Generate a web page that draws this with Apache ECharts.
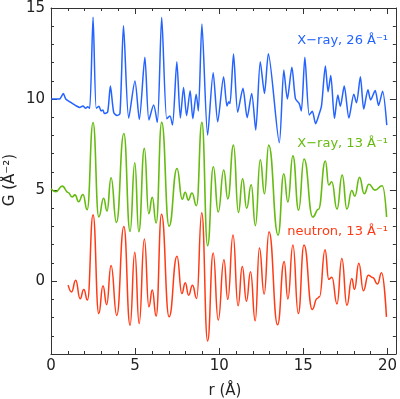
<!DOCTYPE html>
<html lang="en">
<head>
<meta charset="UTF-8">
<title>G(r)</title>
<style>
    *{margin: 0; padding: 0}
    #chart{width: 400px; height: 399px}
</style>
</head>
<body>
<div id="chart"></div>
<script src="https://cdn.jsdelivr.net/npm/echarts@6/dist/echarts.min.js"></script>
<script>
    // tick values
    const xMajor = [0, 5, 10, 15, 20];
    const xMinor = [0, 1, 2, 3, 4, 5, 6, 7, 8, 9, 10, 11, 12, 13, 14, 15, 16, 17, 18, 19, 20];
    const yMajor = [0, 5, 10, 15];
    const yMinor = [-4, -3, -2, -1, 0, 1, 2, 3, 4, 5, 6, 7, 8, 9, 10, 11, 12, 13, 14, 15];

    // [r, G] (curves already shifted by +10 / +5 / 0)
    const xray26 = [
        [0, 10.0], [0.5, 10.0], [0.73, 10.3], [0.88, 10.0], [1.12, 9.85], [1.31, 9.73], [1.51, 9.62],
        [1.71, 9.54], [1.9, 9.62], [2.06, 9.49], [2.18, 9.58], [2.3, 9.49], [2.5, 14.49], [2.69, 9.49],
        [2.85, 9.6], [2.98, 9.35], [3.08, 9.4], [3.18, 9.2], [3.37, 9.3], [3.53, 10.71], [3.73, 9.25],
        [3.92, 9.1], [4.1, 9.21], [4.31, 14.02], [4.62, 8.95], [4.99, 10.99], [5.25, 8.88], [5.58, 12.29],
        [5.82, 8.85], [6.1, 9.67], [6.32, 8.72], [6.58, 14.49], [6.88, 8.92], [7.07, 9.07], [7.22, 8.57],
        [7.48, 12.05], [7.69, 8.96], [7.88, 10.64], [8.06, 9.08], [8.27, 10.46], [8.43, 8.92], [8.63, 10.27],
        [8.76, 9.35], [8.97, 14.12], [9.31, 8.02], [9.64, 11.45], [9.91, 8.75], [10.26, 11.23], [10.46, 9.62],
        [10.57, 9.85], [10.64, 9.75], [10.85, 12.47], [11.1, 9.28], [11.41, 10.59], [11.66, 8.98],
        [11.93, 10.31], [12.17, 8.3], [12.44, 12.05], [12.69, 10.31], [12.92, 12.49], [13.57, 7.6],
        [13.84, 11.6], [14.05, 10.0], [14.32, 11.75], [14.53, 10.02], [14.75, 9.76], [14.88, 9.35],
        [15.09, 12.29], [15.35, 9.12], [15.53, 9.33], [15.73, 8.65], [15.92, 9.12], [16.08, 9.62],
        [16.31, 11.82], [16.47, 10.4], [16.63, 11.29], [16.85, 8.94], [17.05, 10.22], [17.2, 9.6],
        [17.43, 10.71], [17.71, 8.96], [18.0, 10.27], [18.16, 9.8], [18.39, 11.23], [18.59, 9.45],
        [18.84, 10.51], [19.0, 9.95], [19.27, 10.47], [19.47, 9.65], [19.71, 10.43], [19.96, 8.57]
    ];
    const xray13 = [
        [0, 5.07], [0.29, 4.91], [0.67, 5.22], [1.02, 4.87], [1.25, 4.62], [1.43, 4.74], [1.64, 4.36],
        [1.9, 4.76], [2.15, 3.92], [2.5, 8.71], [2.84, 3.53], [3.13, 4.55], [3.33, 3.85], [3.57, 5.68],
        [3.89, 3.22], [4.33, 8.11], [4.7, 2.73], [4.98, 6.5], [5.22, 2.71], [5.55, 7.29], [5.81, 3.7],
        [6.02, 4.6], [6.25, 3.19], [6.58, 8.72], [7.02, 3.02], [7.49, 6.19], [7.8, 4.5], [7.98, 4.88],
        [8.16, 4.45], [8.38, 4.84], [8.65, 4.15], [8.97, 8.72], [9.31, 1.95], [9.65, 6.28], [9.94, 3.8],
        [10.27, 6.1], [10.51, 4.52], [10.85, 7.47], [11.14, 3.77], [11.39, 5.62], [11.63, 4.0], [11.9, 5.29],
        [12.15, 3.05], [12.44, 6.67], [12.69, 4.8], [12.94, 7.47], [13.5, 2.53], [13.84, 5.9], [14.08, 4.35],
        [14.38, 6.88], [14.72, 3.9], [15.04, 6.71], [15.56, 3.52], [15.9, 3.95], [16.31, 6.6], [16.51, 5.28],
        [16.69, 5.46], [17.0, 3.96], [17.31, 5.82], [17.59, 3.96], [17.88, 4.98], [18.06, 4.67], [18.34, 5.7],
        [18.62, 4.8], [18.9, 5.32], [19.25, 5.0], [19.69, 5.24], [19.95, 3.52]
    ];
    const neutron13 = [
        [1.02, -0.22], [1.22, -0.59], [1.47, 0.05], [1.73, -0.97], [1.95, -0.46], [2.17, -1.04], [2.5, 3.65],
        [2.84, -1.78], [3.09, -0.25], [3.31, -1.29], [3.57, 0.86], [3.91, -1.88], [4.33, 3.0], [4.7, -2.42],
        [4.98, 1.59], [5.24, -2.33], [5.55, 2.32], [5.82, -1.41], [6.02, -0.49], [6.25, -1.92], [6.57, 3.68],
        [7.02, -1.96], [7.49, 1.37], [7.78, -0.68], [7.98, -0.09], [8.18, -0.77], [8.41, -0.22], [8.66, -0.95],
        [8.96, 3.76], [9.31, -3.28], [9.64, 1.55], [9.94, -2.14], [10.28, 1.17], [10.51, -1.0], [10.82, 2.53],
        [11.12, -1.35], [11.37, 0.8], [11.62, -1.1], [11.86, 0.51], [12.14, -2.18], [12.39, 1.82],
        [12.67, -0.71], [12.96, 2.71], [13.47, -2.4], [13.86, 1.08], [14.08, -0.98], [14.38, 1.98],
        [14.7, -1.78], [15.04, 1.98], [15.53, -1.55], [15.82, -0.95], [15.96, -0.86], [16.29, 1.72],
        [16.51, 0.1], [16.7, 0.22], [17.0, -1.25], [17.29, 1.24], [17.59, -1.32], [17.88, 0.15],
        [18.04, -0.46], [18.3, 0.98], [18.57, -0.53], [18.86, 0.33], [19.12, 0.2], [19.41, -0.16],
        [19.65, 0.46], [19.94, -1.96]
    ];

    const FONT = 'DejaVu Sans';
    const frame = {show: true, onZero: false, lineStyle: {color: '#333', width: 1}};

    // builds one of the 8 axes (major/minor ticks on each side)
    const makeAxis = function(position, min, max, ticks, major, labels) {
        return {
            type: 'value', position: position, min: min, max: max,
            axisLine: major ? frame : {show: false, onZero: false},
            axisTick: {show: true, inside: true, length: major ? 6 : 3, customValues: ticks,
                lineStyle: {color: '#333', width: 1}},
            axisLabel: labels ? {show: true, customValues: ticks, fontFamily: FONT, fontSize: 15,
                color: '#222', margin: position === 'bottom' ? 5 : 6} : {show: false},
            splitLine: {show: false}
        };
    };

    const chart = echarts.init(document.getElementById('chart'));
    chart.setOption({
        animation: false,
        backgroundColor: '#fff',
        grid: {left: 51, top: 8, right: 1, bottom: 45},
        xAxis: [
            makeAxis('bottom', 0, 20.5, xMajor, true, true),
            makeAxis('bottom', 0, 20.5, xMinor, false, false),
            makeAxis('top', 0, 20.5, xMajor, true, false),
            makeAxis('top', 0, 20.5, xMinor, false, false)
        ],
        yAxis: [
            makeAxis('left', -4, 15, yMajor, true, true),
            makeAxis('left', -4, 15, yMinor, false, false),
            makeAxis('right', -4, 15, yMajor, true, false),
            makeAxis('right', -4, 15, yMinor, false, false)
        ],
        series: [{
            type: 'line', data: xray26, showSymbol: false, smooth: 0.25,
            lineStyle: {color: '#2463ff', width: 1.5}
        }, {
            type: 'line', data: xray13, showSymbol: false, smooth: 0.5, smoothMonotone: 'x',
            lineStyle: {color: '#66bb11', width: 1.6}
        }, {
            type: 'line', data: neutron13, showSymbol: false, smooth: 0.5, smoothMonotone: 'x',
            lineStyle: {color: '#ff3a14', width: 1.5}
        }],
        graphic: [
            {type: 'text', x: 10, y: 180, rotation: Math.PI / 2,
                style: {text: 'G (Å⁻²)', font: '15px "DejaVu Sans"', fill: '#222', align: 'center', verticalAlign: 'middle'}},
            {type: 'text', x: 225, y: 391,
                style: {text: 'r (Å)', font: '15px "DejaVu Sans"', fill: '#222', align: 'center', verticalAlign: 'middle'}},
            {type: 'text', x: 388, y: 41,
                style: {text: 'X−ray, 26 Å⁻¹', font: '13px "DejaVu Sans"', fill: '#2463ff', align: 'right', verticalAlign: 'middle'}},
            {type: 'text', x: 388, y: 144,
                style: {text: 'X−ray, 13 Å⁻¹', font: '13px "DejaVu Sans"', fill: '#66bb11', align: 'right', verticalAlign: 'middle'}},
            {type: 'text', x: 388, y: 232,
                style: {text: 'neutron, 13 Å⁻¹', font: '13px "DejaVu Sans"', fill: '#ff3a14', align: 'right', verticalAlign: 'middle'}}
        ]
    });
</script>
</body>
</html>
